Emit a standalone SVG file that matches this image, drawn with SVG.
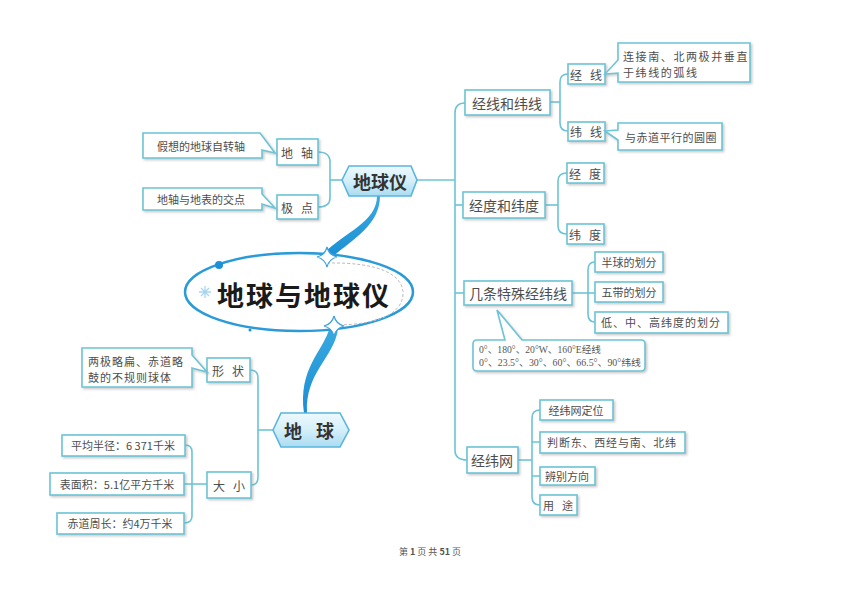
<svg xmlns="http://www.w3.org/2000/svg" width="860" height="608" viewBox="0 0 860 608">
<defs>
<filter id="sh" x="-10%" y="-20%" width="130%" height="150%">
<feDropShadow dx="1.5" dy="1.5" stdDeviation="0.8" flood-color="#888" flood-opacity="0.45"/>
</filter>
<linearGradient id="hexg" x1="0" y1="0" x2="0" y2="1">
<stop offset="0" stop-color="#eef9fd"/>
<stop offset="0.5" stop-color="#d4eff9"/>
<stop offset="1" stop-color="#a9dcf2"/>
</linearGradient>
<linearGradient id="curveg" x1="0" y1="0" x2="0" y2="1">
<stop offset="0" stop-color="#39a9e0"/>
<stop offset="1" stop-color="#1b8fd5"/>
</linearGradient>
</defs>
<style>
.box{fill:#fff;stroke:#6cc4d5;stroke-width:1.6;filter:url(#sh)}
.hex{fill:url(#hexg);stroke:#5ab4de;stroke-width:1.6}
.ln{fill:none;stroke:#6cc4d5;stroke-width:1.6}
text{font-family:"Noto Sans CJK SC","Noto Sans",sans-serif;fill:#4d4d4d}
.t14{font-size:14px}
.t12{font-size:12px}
.t11{font-size:11px}
.sp{letter-spacing:8px}
.mid{text-anchor:middle;dominant-baseline:central}
.hx{font-size:18px;font-weight:700;fill:#333}
.num{font-family:"Liberation Serif","Noto Sans CJK SC",serif;font-size:9.5px;fill:#555}
</style>
<rect width="860" height="608" fill="#fff"/>

<g id="connectors">
<path class="ln" d="M417,180 H455"/>
<path class="ln" d="M465,103 Q455,103 455,113 V450 Q455,460 467,460"/>
<path class="ln" d="M455,205 H463"/>
<path class="ln" d="M455,293 H464"/>
<path class="ln" d="M550,102 H560"/>
<path class="ln" d="M568,74 Q560,74 560,82 V123 Q560,131 568,131"/>
<path class="ln" d="M545,205 H558"/>
<path class="ln" d="M567,173 Q558,173 558,181 V226 Q558,234 567,234"/>
<path class="ln" d="M572,293 H595"/>
<path class="ln" d="M595,262 Q588,262 588,270 V314 Q588,322 595,322"/>
<path class="ln" d="M518,460 H532"/>
<path class="ln" d="M540,410 Q532,410 532,418 V497 Q532,505 540,505"/>
<path class="ln" d="M532,442 H540 M532,476 H540"/>
<path class="ln" d="M342,180 H330"/>
<path class="ln" d="M318,152 Q330,152 330,162 V198 Q330,207 318,207"/>
<path class="ln" d="M273,430 H258"/>
<path class="ln" d="M250,370 Q258,370 258,378 V477 Q258,485 251,485"/>
<path class="ln" d="M184,484 H207"/>
<path class="ln" d="M185,445 Q192,445 192,452 V516 Q192,523 184,523"/>
<path d="M377,196 C377,222 345,232 323,254 L330,259 C351,240 380,226 380,196 Z" fill="url(#curveg)"/>
<path d="M330,327 C323,352 298,368 304,413 L307,413 C305,372 334,358 338,329 Z" fill="url(#curveg)"/>
</g>

<g id="title">
<ellipse cx="299" cy="292" rx="114" ry="39" fill="none" stroke="#2a9bd8" stroke-width="2.5"/>
<path d="M327,263 C382,262 403,276 403,293 C403,312 382,325 334,325" fill="none" stroke="#bbb" stroke-width="1" stroke-dasharray="3 2"/>
<circle cx="219" cy="265" r="4" fill="#1f8fd6"/>
<circle cx="250" cy="330" r="1.5" fill="#1f8fd6"/>
<g stroke="#a8d6ef" stroke-width="1.3">
<path d="M199,292 H211 M205,286 V298 M201,288 L209,296 M209,288 L201,296"/>
</g>
<path d="M327,247 Q329,255 337,257 Q329,259 327,267 Q325,259 317,257 Q325,255 327,247 Z" fill="#fff" stroke="#3aa0dc" stroke-width="1.2"/>
<path d="M334,316 Q336,324 344,326 Q336,328 334,336 Q332,328 324,326 Q332,324 334,316 Z" fill="#fff" stroke="#3aa0dc" stroke-width="1.2"/>
<text x="217" y="294" style="font-size:27px;font-weight:700;fill:#1a1a1a;letter-spacing:2px;dominant-baseline:central">地球与地球仪</text>
</g>

<g id="n-diqiuyi">
<path class="hex" d="M342,180 L349,166 H411 L417,180 L411,196 H349 Z"/>
<text class="hx mid" x="380" y="181">地球仪</text>
</g>
<g id="n-diqiu">
<path class="hex" d="M273,430 L281,413 H340 L349,430 L340,447 H281 Z"/>
<text class="hx mid" x="316" y="430" style="letter-spacing:14px">地球</text>
</g>

<g id="n-dizhou"><rect class="box" x="277" y="139" width="41" height="26"/><text class="t12 mid sp" x="301" y="152">地轴</text></g>
<g id="n-jidian"><rect class="box" x="277" y="195" width="41" height="24"/><text class="t12 mid sp" x="301" y="207">极点</text></g>
<g id="n-dizhou-note"><path class="box" d="M143,133 H260 L275,153 L262,150 V158 H143 Z"/><text class="t11 mid" x="201" y="146">假想的地球自转轴</text></g>
<g id="n-jidian-note"><path class="box" d="M143,188 H262 V194 L275,208 L262,204 V210 H143 Z"/><text class="t11 mid" x="201" y="199">地轴与地表的交点</text></g>

<g id="n-xingzhuang"><rect class="box" x="207" y="358" width="43" height="24"/><text class="t12 mid sp" x="232" y="370">形状</text></g>
<g id="n-daxiao"><rect class="box" x="207" y="472" width="44" height="26"/><text class="t12 mid sp" x="233" y="485">大小</text></g>
<g id="n-xingzhuang-note"><path class="box" d="M82,348 H192 V355 L207,372 L192,368 V387 H82 Z"/>
<text class="t11" x="88" y="366" style="letter-spacing:1px">两极略扁、赤道略</text>
<text class="t11" x="88" y="382" style="letter-spacing:1px">鼓的不规则球体</text></g>
<g id="n-banjing"><rect class="box" x="62" y="435" width="123" height="21"/><text class="t11 mid" x="123" y="445">平均半径：6 371千米</text></g>
<g id="n-biaomian"><rect class="box" x="50" y="473" width="134" height="22"/><text class="t11 mid" x="117" y="484">表面积：5.1亿平方千米</text></g>
<g id="n-chidao"><rect class="box" x="57" y="513" width="127" height="21"/><text class="t11 mid" x="120" y="523">赤道周长：约4万千米</text></g>

<g id="n-jingxianweixian"><rect class="box" x="465" y="90" width="85" height="25"/><text class="t14 mid" x="507" y="103">经线和纬线</text></g>
<g id="n-jingxian"><rect class="box" x="568" y="64" width="37" height="20"/><text class="t12 mid sp" x="590" y="74">经线</text></g>
<g id="n-weixian"><rect class="box" x="568" y="122" width="37" height="19"/><text class="t12 mid sp" x="590" y="131">纬线</text></g>
<g id="n-jingxian-note"><path class="box" d="M618,43 H750 V82 H618 V73 L605,74 L618,60 Z"/>
<text class="t11" x="623" y="61" style="letter-spacing:1.6px">连接南、北两极并垂直</text>
<text class="t11" x="623" y="77" style="letter-spacing:1.6px">于纬线的弧线</text></g>
<g id="n-weixian-note"><path class="box" d="M618,123 H722 V150 H618 V140 L605,131 L618,130 Z"/><text class="t11 mid" x="671" y="137" style="letter-spacing:0.5px">与赤道平行的圆圈</text></g>

<g id="n-jingduweidu"><rect class="box" x="463" y="192" width="82" height="26"/><text class="t14 mid" x="504" y="205">经度和纬度</text></g>
<g id="n-jingdu"><rect class="box" x="567" y="163" width="37" height="20"/><text class="t12 mid sp" x="589" y="173">经度</text></g>
<g id="n-weidu"><rect class="box" x="567" y="224" width="37" height="20"/><text class="t12 mid sp" x="589" y="234">纬度</text></g>

<g id="n-teshu"><rect class="box" x="464" y="281" width="108" height="24"/><text class="t14 mid" x="518" y="293">几条特殊经纬线</text></g>
<g id="n-banqiu"><rect class="box" x="595" y="252" width="68" height="20"/><text class="t11 mid" x="629" y="262">半球的划分</text></g>
<g id="n-wudai"><rect class="box" x="595" y="282" width="68" height="20"/><text class="t11 mid" x="629" y="292">五带的划分</text></g>
<g id="n-gaodi"><rect class="box" x="595" y="312" width="133" height="21"/><text class="t11 mid" x="661" y="322" style="letter-spacing:1px">低、中、高纬度的划分</text></g>
<g id="n-teshu-note"><path class="box" d="M477,340 H505 L497,310 L522,340 H641 Q645,340 645,344 V367 Q645,371 641,371 H477 Q473,371 473,367 V344 Q473,340 477,340 Z"/>
<text class="num" x="479" y="353" textLength="122" lengthAdjust="spacingAndGlyphs">0°、180°、20°W、160°E经线</text>
<text class="num" x="479" y="366" textLength="162" lengthAdjust="spacingAndGlyphs">0°、23.5°、30°、60°、66.5°、90°纬线</text></g>

<g id="n-jingweiwang"><rect class="box" x="467" y="447" width="51" height="26"/><text class="t14 mid" x="492" y="460">经纬网</text></g>
<g id="n-dingwei"><rect class="box" x="540" y="400" width="73" height="20"/><text class="t11 mid" x="576" y="410">经纬网定位</text></g>
<g id="n-panduan"><rect class="box" x="540" y="432" width="145" height="21"/><text class="t11 mid" x="612" y="442" style="letter-spacing:0.8px">判断东、西经与南、北纬</text></g>
<g id="n-bianbie"><rect class="box" x="540" y="467" width="55" height="18"/><text class="t11 mid" x="567" y="476">辨别方向</text></g>
<g id="n-yongtu"><rect class="box" x="540" y="495" width="37" height="20"/><text class="t11 mid" x="562" y="505" style="letter-spacing:8px">用途</text></g>

<text x="430" y="555" style="font-size:9px;fill:#555;text-anchor:middle">第 <tspan style="font-weight:700">1</tspan> 页 共 <tspan style="font-weight:700">51</tspan> 页</text>
</svg>
